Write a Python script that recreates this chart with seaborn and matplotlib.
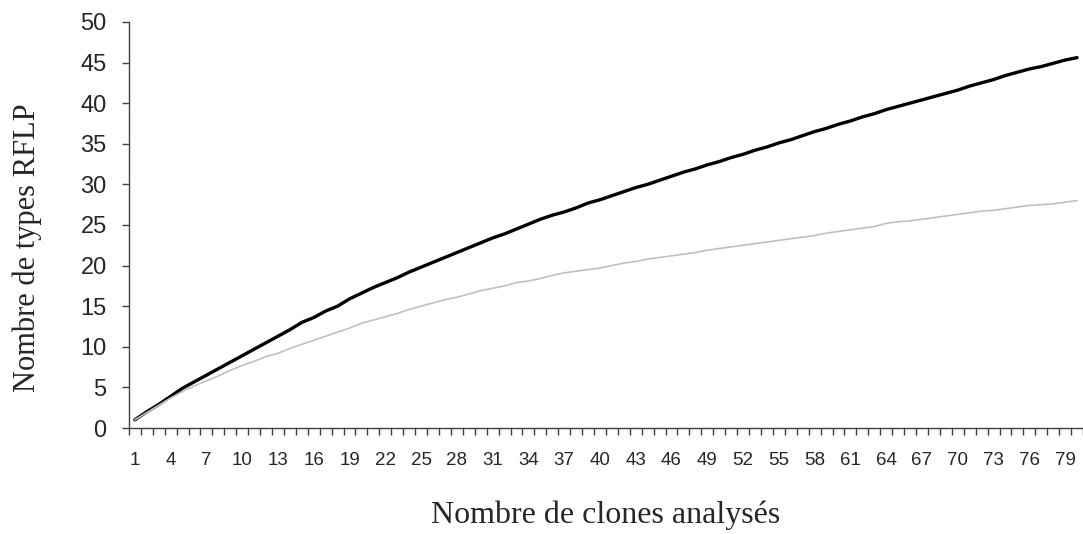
import pandas as pd
import numpy as np
import matplotlib as mpl
import matplotlib.pyplot as plt
import seaborn as sns

sns.set_style("white")
mpl.rcParams['font.family'] = ['Liberation Sans', 'DejaVu Sans']

clones = list(range(1, 81))

total = [1.0, 2.0, 2.9, 3.9, 4.9, 5.7, 6.5, 7.3, 8.1, 8.9,
         9.7, 10.5, 11.3, 12.1, 13.0, 13.6, 14.4, 15.0, 15.9, 16.6,
         17.3, 17.9, 18.5, 19.2, 19.8, 20.4, 21.0, 21.6, 22.2, 22.8,
         23.4, 23.9, 24.5, 25.1, 25.7, 26.2, 26.6, 27.1, 27.7, 28.1,
         28.6, 29.1, 29.6, 30.0, 30.5, 31.0, 31.5, 31.9, 32.4, 32.8,
         33.3, 33.7, 34.2, 34.6, 35.1, 35.5, 36.0, 36.5, 36.9, 37.4,
         37.8, 38.3, 38.7, 39.2, 39.6, 40.0, 40.4, 40.8, 41.2, 41.6,
         42.1, 42.5, 42.9, 43.4, 43.8, 44.2, 44.5, 44.9, 45.3, 45.6]

partiel = [1.0, 1.9, 2.8, 3.7, 4.5, 5.2, 5.8, 6.4, 7.1, 7.7,
           8.2, 8.8, 9.2, 9.8, 10.3, 10.8, 11.3, 11.8, 12.3, 12.9,
           13.3, 13.7, 14.1, 14.6, 15.0, 15.4, 15.8, 16.1, 16.5, 16.9,
           17.2, 17.5, 17.9, 18.1, 18.4, 18.8, 19.1, 19.3, 19.5, 19.7,
           20.0, 20.3, 20.5, 20.8, 21.0, 21.2, 21.4, 21.6, 21.9, 22.1,
           22.3, 22.5, 22.7, 22.9, 23.1, 23.3, 23.5, 23.7, 24.0, 24.2,
           24.4, 24.6, 24.8, 25.2, 25.4, 25.5, 25.7, 25.9, 26.1, 26.3,
           26.5, 26.7, 26.8, 27.0, 27.2, 27.4, 27.5, 27.6, 27.8, 28.0]

yticks = list(range(0, 51, 5))
xticks = list(range(1, 80, 3))

df = pd.DataFrame({"clones": clones, "total": total, "partiel": partiel})

fig = plt.figure(figsize=(10.83, 5.34), dpi=100)
ax = fig.add_axes([0.119, 0.1985, 0.881, 0.7605])

sns.lineplot(data=df, x="clones", y="total", color="black", linewidth=2.4, ax=ax)
sns.lineplot(data=df, x="clones", y="partiel", color="#c0c0c0", linewidth=1.2, ax=ax)

ax.set_xlim(0.5, 80.5)
ax.set_ylim(0, 50)
ax.set_yticks(yticks)
ax.set_xticks(xticks)
ax.set_xticks(np.arange(0.5, 81, 1), minor=True)

for s in ["top", "right"]:
    ax.spines[s].set_visible(False)
for s in ["left", "bottom"]:
    ax.spines[s].set_color("#404040")
    ax.spines[s].set_linewidth(1.0)

ax.tick_params(axis="y", which="major", direction="out", length=5, width=1,
               color="#404040", labelsize=17, pad=11, left=True)
ax.tick_params(axis="x", which="major", length=0, labelsize=13.5, pad=17)
ax.tick_params(axis="x", which="minor", direction="out", length=5, width=1,
               color="#404040", bottom=True)

ax.set_xlabel("Nombre de clones analysés", family=['Liberation Serif', 'DejaVu Serif'],
              fontsize=23)
ax.set_ylabel("Nombre de types RFLP", family=['Liberation Serif', 'DejaVu Serif'],
              fontsize=22)
ax.xaxis.set_label_coords(0.5, -0.178)
ax.yaxis.set_label_coords(-0.091, 0.443)

fig.savefig("out.png", dpi=100)
